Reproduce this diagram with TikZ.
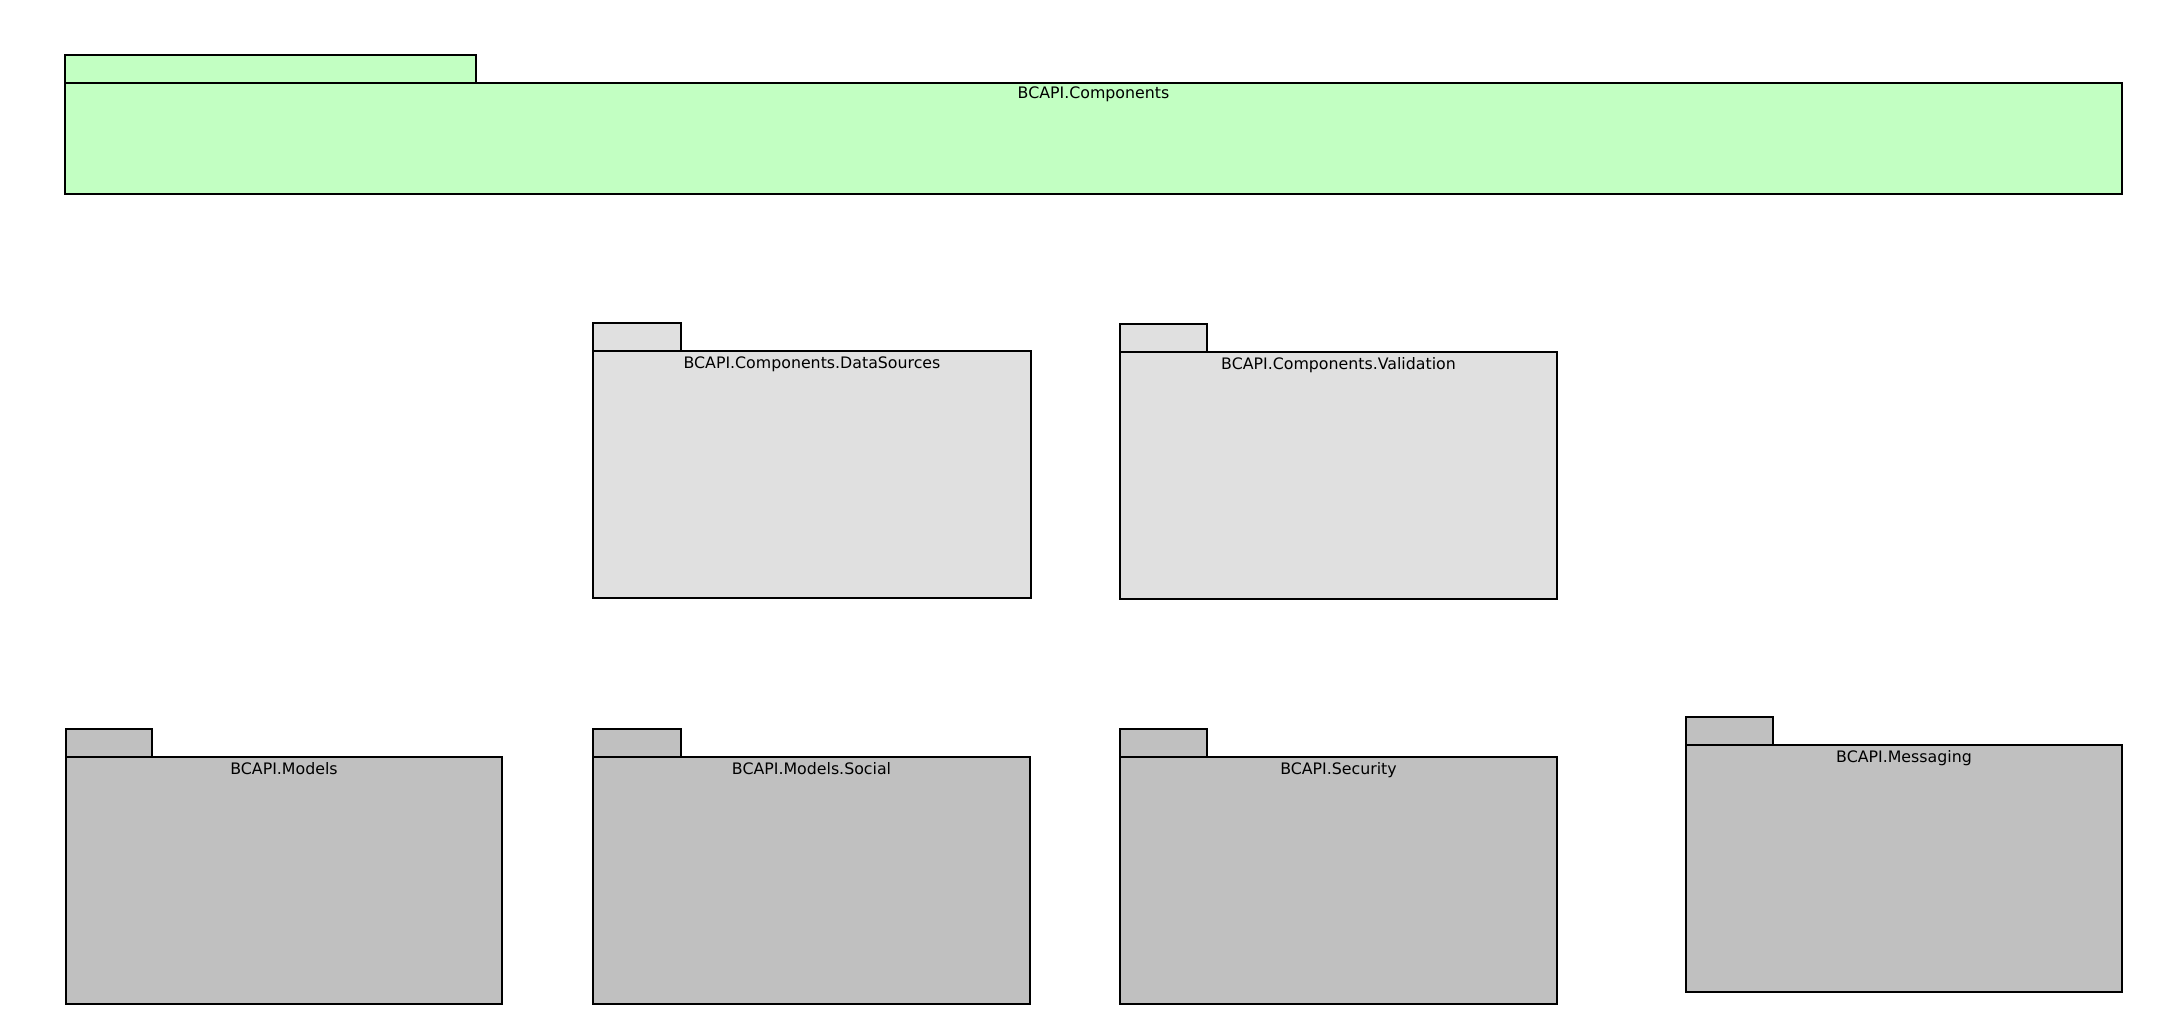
\documentclass[tikz,border=0pt]{standalone}
\usepackage{fontspec}
\setmainfont{DejaVu Sans}
\definecolor{pkggreen}{RGB}{194,255,194}
\definecolor{pkglight}{RGB}{224,224,224}
\definecolor{pkggray}{RGB}{192,192,192}
\tikzset{
  pkgbox/.style={draw=black, line width=1.3pt, rectangle, inner sep=0pt, outer sep=0pt},
  pkglbl/.style={font=\fontsize{15.8}{18}\selectfont, anchor=base, inner sep=0pt}
}
\begin{document}
\begin{tikzpicture}[x=1pt,y=-1pt]
\useasboundingbox[fill=white] (0,0) rectangle (2162,1011);
% BCAPI.Components
\node[pkgbox, fill=pkggreen, minimum width=411pt, minimum height=28pt] (compTab) at (270.5,69) {};
\node[pkgbox, fill=pkggreen, minimum width=2057pt, minimum height=111pt] (comp) at (1093.5,138.5) {};
\node[pkglbl] (compLbl) at (1093.5,99) {BCAPI.Components};
% DataSources
\node[pkgbox, fill=pkglight, minimum width=88pt, minimum height=28pt] (dsTab) at (637,337) {};
\node[pkgbox, fill=pkglight, minimum width=438pt, minimum height=247pt] (ds) at (812,474.5) {};
\node[pkglbl] (dsLbl) at (812,368) {BCAPI.Components.DataSources};
% Validation
\node[pkgbox, fill=pkglight, minimum width=87pt, minimum height=28pt] (valTab) at (1163.5,338) {};
\node[pkgbox, fill=pkglight, minimum width=437pt, minimum height=247pt] (val) at (1338.5,475.5) {};
\node[pkglbl] (valLbl) at (1338.5,369) {BCAPI.Components.Validation};
% Models
\node[pkgbox, fill=pkggray, minimum width=86pt, minimum height=28pt] (modTab) at (109,743) {};
\node[pkgbox, fill=pkggray, minimum width=436pt, minimum height=247pt] (mod) at (284,880.5) {};
\node[pkglbl] (modLbl) at (284,774) {BCAPI.Models};
% Models.Social
\node[pkgbox, fill=pkggray, minimum width=88pt, minimum height=28pt] (socTab) at (637,743) {};
\node[pkgbox, fill=pkggray, minimum width=437pt, minimum height=247pt] (soc) at (811.5,880.5) {};
\node[pkglbl] (socLbl) at (811.5,774) {BCAPI.Models.Social};
% Security
\node[pkgbox, fill=pkggray, minimum width=87pt, minimum height=28pt] (secTab) at (1163.5,743) {};
\node[pkgbox, fill=pkggray, minimum width=437pt, minimum height=247pt] (sec) at (1338.5,880.5) {};
\node[pkglbl] (secLbl) at (1338.5,774) {BCAPI.Security};
% Messaging
\node[pkgbox, fill=pkggray, minimum width=87pt, minimum height=28pt] (msgTab) at (1729.5,731) {};
\node[pkgbox, fill=pkggray, minimum width=436pt, minimum height=247pt] (msg) at (1904,868.5) {};
\node[pkglbl] (msgLbl) at (1904,762) {BCAPI.Messaging};
\end{tikzpicture}
\end{document}
